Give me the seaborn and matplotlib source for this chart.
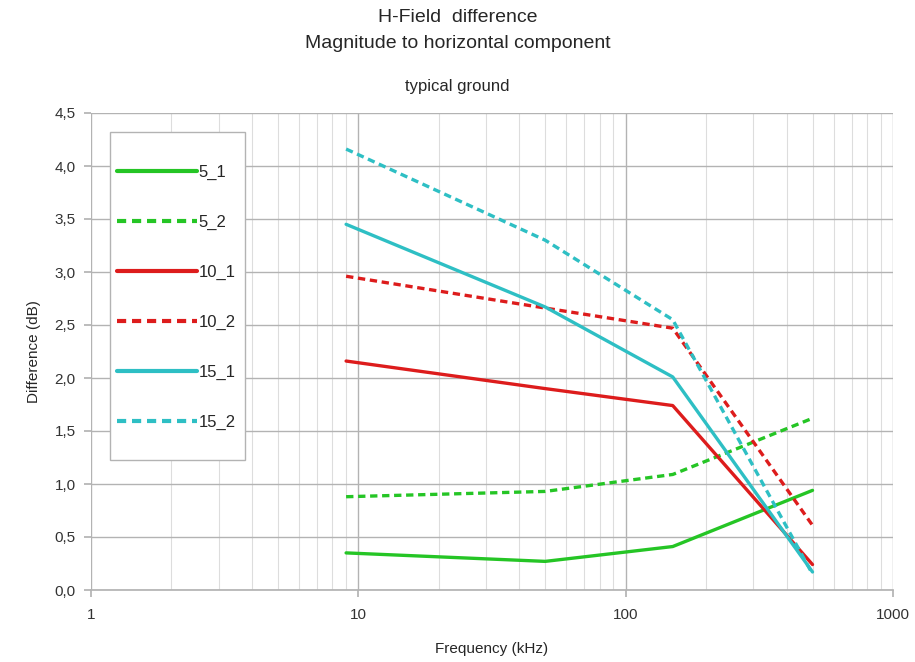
import matplotlib
matplotlib.use("Agg")
import matplotlib.pyplot as plt
import matplotlib.ticker as mticker
from matplotlib.patches import Rectangle
import seaborn as sns
import pandas as pd

freq = [9, 50, 150, 500]
s5_1 = [0.35, 0.27, 0.41, 0.94]
s5_2 = [0.88, 0.93, 1.09, 1.62]
s10_1 = [2.16, 1.90, 1.74, 0.24]
s10_2 = [2.96, 2.66, 2.47, 0.61]
s15_1 = [3.45, 2.67, 2.01, 0.17]
s15_2 = [4.16, 3.30, 2.55, 0.15]

names = ["5_1", "5_2", "10_1", "10_2", "15_1", "15_2"]
series = [s5_1, s5_2, s10_1, s10_2, s15_1, s15_2]

df = pd.DataFrame(
    [(f, v, n) for n, vals in zip(names, series) for f, v in zip(freq, vals)],
    columns=["freq", "diff", "series"],
)

green = "#25c525"
red = "#dd1c1c"
cyan = "#2ebfc4"
palette = {"5_1": green, "5_2": green, "10_1": red, "10_2": red,
           "15_1": cyan, "15_2": cyan}
dashes = {n: ("" if n.endswith("_1") else (2.2, 1.4)) for n in names}

sns.set_theme(style="white")
plt.rcParams["font.family"] = ["Liberation Sans", "DejaVu Sans"]

W, H = 915, 662
fig = plt.figure(figsize=(W / 100, H / 100), dpi=100)
ax = fig.add_axes([91 / W, 1 - 590 / H, (893 - 91) / W, (590 - 113) / H])

sns.lineplot(data=df, x="freq", y="diff", hue="series", style="series",
             palette=palette, dashes=dashes, linewidth=2.4, ax=ax,
             hue_order=names, style_order=names)

ax.set_xscale("log")
ax.set_xlim(1, 1000)
ax.set_ylim(0, 4.5)
ax.xaxis.set_major_locator(mticker.LogLocator(base=10))
ax.xaxis.set_minor_locator(mticker.LogLocator(base=10, subs=range(2, 10)))
ax.xaxis.set_major_formatter(mticker.FuncFormatter(lambda v, p: f"{v:g}"))
ax.xaxis.set_minor_formatter(mticker.NullFormatter())
ax.yaxis.set_major_locator(mticker.MultipleLocator(0.5))
ax.yaxis.set_major_formatter(
    mticker.FuncFormatter(lambda v, p: f"{v:.1f}".replace(".", ",")))

ax.grid(which="major", color="#b3b3b3", linewidth=1)
ax.grid(which="minor", axis="x", color="#dddddd", linewidth=0.8)
ax.set_axisbelow(True)
for side in ["top", "right", "left"]:
    ax.spines[side].set_visible(False)
ax.spines["bottom"].set_color("#b3b3b3")
ax.tick_params(axis="both", which="major", length=5, color="#b3b3b3",
               labelsize=11, colors="#333333", pad=6)
ax.tick_params(axis="y", left=True)
ax.tick_params(axis="x", bottom=True, pad=8)
ax.tick_params(axis="x", which="minor", bottom=False)

ax.set_xlabel("Frequency (kHz)", fontsize=11, labelpad=14)
ax.set_ylabel("Difference (dB)", fontsize=11, labelpad=10)

fig.text(0.5, 1 - 18 / H, "H-Field  difference", ha="center", va="center",
         fontsize=14)
fig.text(0.5, 1 - 43 / H, "Magnitude to horizontal component", ha="center",
         va="center", fontsize=14)
fig.text(0.5, 1 - 86 / H, "typical ground", ha="center", va="center",
         fontsize=12)

# legend box
box = Rectangle((110 / W, 1 - 460 / H), (245 - 110) / W, (460 - 132) / H,
                transform=fig.transFigure, facecolor="white",
                edgecolor="#b3b3b3", linewidth=1, zorder=3, clip_on=False)
ax.add_patch(box)
leg = ax.legend(loc="upper left", bbox_to_anchor=(117 / W, 1 - 165 / H),
                bbox_transform=fig.transFigure, frameon=False, fontsize=12,
                handlelength=4.8, handletextpad=0.1, labelspacing=2.09,
                borderpad=0, borderaxespad=0)
leg.set_zorder(5)
for line in leg.get_lines():
    line.set_linewidth(3)

fig.savefig("out.png", dpi=100)
